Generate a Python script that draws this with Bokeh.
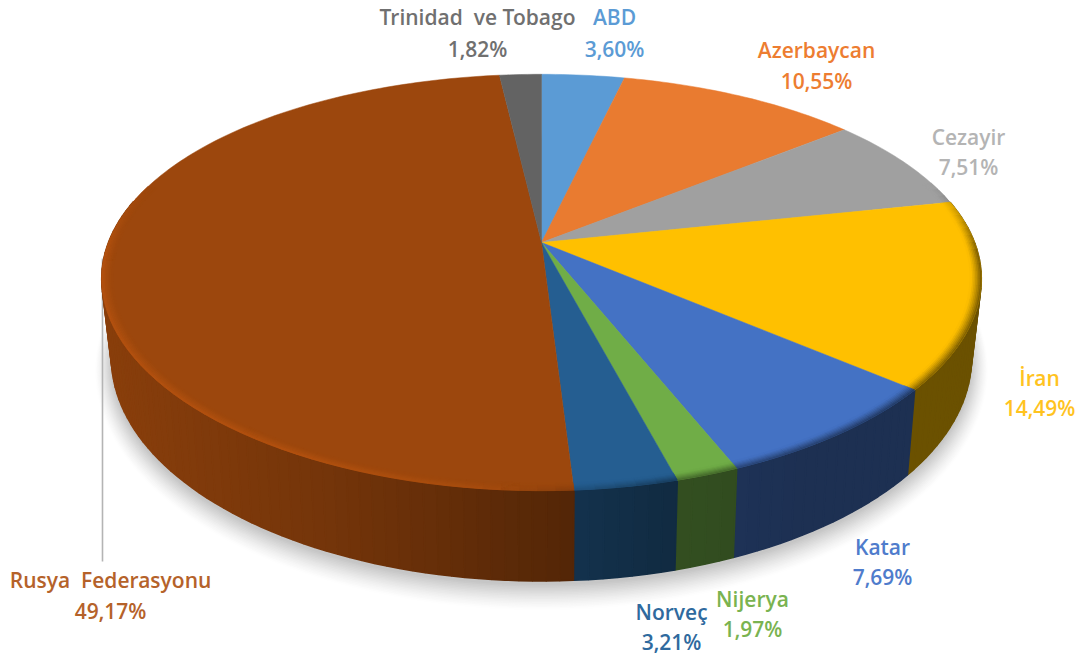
import numpy as np
from bokeh.plotting import figure
from bokeh.core.properties import value
from bokeh.embed import file_html
from bokeh.resources import INLINE

categories = ["ABD", "Azerbaycan", "Cezayir", "İran", "Katar", "Nijerya", "Norveç", "Rusya\u00a0 Federasyonu", "Trinidad\u00a0 ve Tobago"]
shares = [3.60, 10.55, 7.51, 14.49, 7.69, 1.97, 3.21, 49.17, 1.82]
slice_colors = ["#5b9bd5", "#e97b30", "#a0a0a0", "#ffc000", "#4472c4", "#70ad47", "#255e91", "#9c470d", "#636363"]
label_colors = ["#5b9bd5", "#ed7d31", "#b4b4b4", "#ffc31f", "#4f7ccc", "#7ab350", "#2f6a9e", "#b5622a", "#707070"]

# layout: centre x, first baseline, second baseline for every label (image pixels)
label_layout = {
    "ABD": (614, 23, 55), "Azerbaycan": (816, 56, 87), "Cezayir": (968, 143, 173),
    "İran": (1039, 384, 414), "Katar": (882, 553, 583), "Nijerya": (752, 605, 635),
    "Norveç": (671, 618, 648), "Rusya\u00a0 Federasyonu": (110, 586, 617),
    "Trinidad\u00a0 ve Tobago": (477, 23, 55),
}
BASELINE_SHIFT = -7

W, H = 1080, 654
p = figure(width=W, height=H, x_range=(0, W), y_range=(H, 0),
           output_backend="svg", toolbar_location=None, min_border=0)
p.axis.visible = False
p.grid.visible = False
p.outline_line_color = None
p.background_fill_color = "#ffffff"
p.border_fill_color = "#ffffff"

CX, CY, A, B, K, KX = 541.0, 242.0, 433.0, 200.5, 0.192, 0.175
CY2, A2, B2, K2 = 317.0, 423.0, 216.0, 0.18


def top(theta, r=1.0):
    u, v = r * np.sin(theta), -r * np.cos(theta)
    return CX + A * u / (1 - KX * v), CY + B * v / (1 - K * v)


def bottom(theta, grow=0.0, dy=0.0):
    u, v = np.sin(theta), -np.cos(theta)
    d = 1 - K2 * v
    return CX + (A2 + grow) * u / d, CY2 + dy + (B2 + grow) * v / d


def to_hex(c):
    c = np.clip(np.round(c), 0, 255).astype(int)
    return "#%02x%02x%02x" % tuple(c)


def rgb(h):
    return np.array([int(h[i:i + 2], 16) for i in (1, 3, 5)], float)


fr = np.array(shares) / np.sum(shares) * 2 * np.pi
edges = np.concatenate([[0], np.cumsum(fr)])

# soft shadow
ring = np.linspace(0, 2 * np.pi, 361)
for i, g in enumerate(np.linspace(16, 0, 17)):
    level = 255 - (i + 1) ** 1.35 * 1.25
    sx, sy = bottom(ring, grow=g, dy=4 + g * 0.35)
    p.patch(sx, sy, fill_color=to_hex(np.array([level] * 3)), line_color=None)

# leader line
p.line([102, 102], [258, 561], line_color="#b4b4b4", line_width=1.6)


def wall_factor(x):
    return np.interp(x, [100, 200, 330, 450, 574, 660, 800, 1000],
                     [0.88, 0.82, 0.74, 0.64, 0.53, 0.46, 0.42, 0.42])


def rim_target(x):
    return np.interp(x, [100, 300, 480, 574, 680, 850, 1000],
                     [1.16, 1.16, 1.08, 0.85, 0.6, 0.5, 0.45])


# side wall, back to front
xs, ys, cols = [], [], []
for i in range(len(shares)):
    n = max(3, int(np.degrees(fr[i]) / 1.5))
    th = np.linspace(edges[i], edges[i + 1], n + 1)
    for a, b in zip(th[:-1], th[1:]):
        if -np.cos((a + b) / 2) < -0.22:
            continue
        x1, y1 = top(np.array([a, b]))
        x2, y2 = bottom(np.array([b, a]))
        xs.append(np.concatenate([x1, x2]))
        ys.append(np.concatenate([y1, y2]))
        cols.append(to_hex(rgb(slice_colors[i]) * wall_factor(x1.mean())))
order = np.argsort([y.mean() for y in ys])
p.patches([xs[j] for j in order], [ys[j] for j in order],
          fill_color=[cols[j] for j in order], line_color=[cols[j] for j in order], line_width=1.6)

# top face
for i in range(len(shares)):
    th = np.linspace(edges[i], edges[i + 1], max(3, int(np.degrees(fr[i]))) + 1)
    x, y = top(th, 1.0)
    p.patch(np.concatenate([[CX], x]), np.concatenate([[CY], y]),
            fill_color=slice_colors[i], line_color=slice_colors[i], line_width=0.5)

# bevel round the rim
steps = 7
radii = np.linspace(1.0, 0.975, steps + 1)
xs, ys, cols = [], [], []
for i in range(len(shares)):
    n = max(2, int(np.degrees(fr[i]) / 2))
    th = np.linspace(edges[i], edges[i + 1], n + 1)
    for a, b in zip(th[:-1], th[1:]):
        mid = (a + b) / 2
        v = -np.cos(mid)
        w = np.clip((v + 0.3) / 0.35, 0, 1)
        if w == 0:
            continue
        mx, _ = top(np.array([mid]))
        g = rim_target(mx[0])
        for s in range(steps):
            t = (s + 0.5) / steps
            x1, y1 = top(np.array([a, b]), radii[s])
            x2, y2 = top(np.array([b, a]), radii[s + 1])
            prof = (1 - t) ** 1.3
            f = 1 + (g - 1) * prof * w
            xs.append(np.concatenate([x1, x2]))
            ys.append(np.concatenate([y1, y2]))
            cols.append(to_hex(rgb(slice_colors[i]) * f))
p.patches(xs, ys, fill_color=cols, line_color=cols, line_width=0.8)

# labels
for name, share, col in zip(categories, shares, label_colors):
    cx, y1, y2 = label_layout[name]
    pct = f"{share:.2f}".replace(".", ",") + "%"
    for txt, yy in ((name, y1), (pct, y2)):
        p.text([cx], [yy + BASELINE_SHIFT], text=[txt], text_color=col, text_font=value("Open Sans SemiBold"),
               text_font_size="21px", text_font_style="normal", text_align="center", text_baseline="alphabetic")

open("out.html", "w").write(file_html(p, INLINE))
